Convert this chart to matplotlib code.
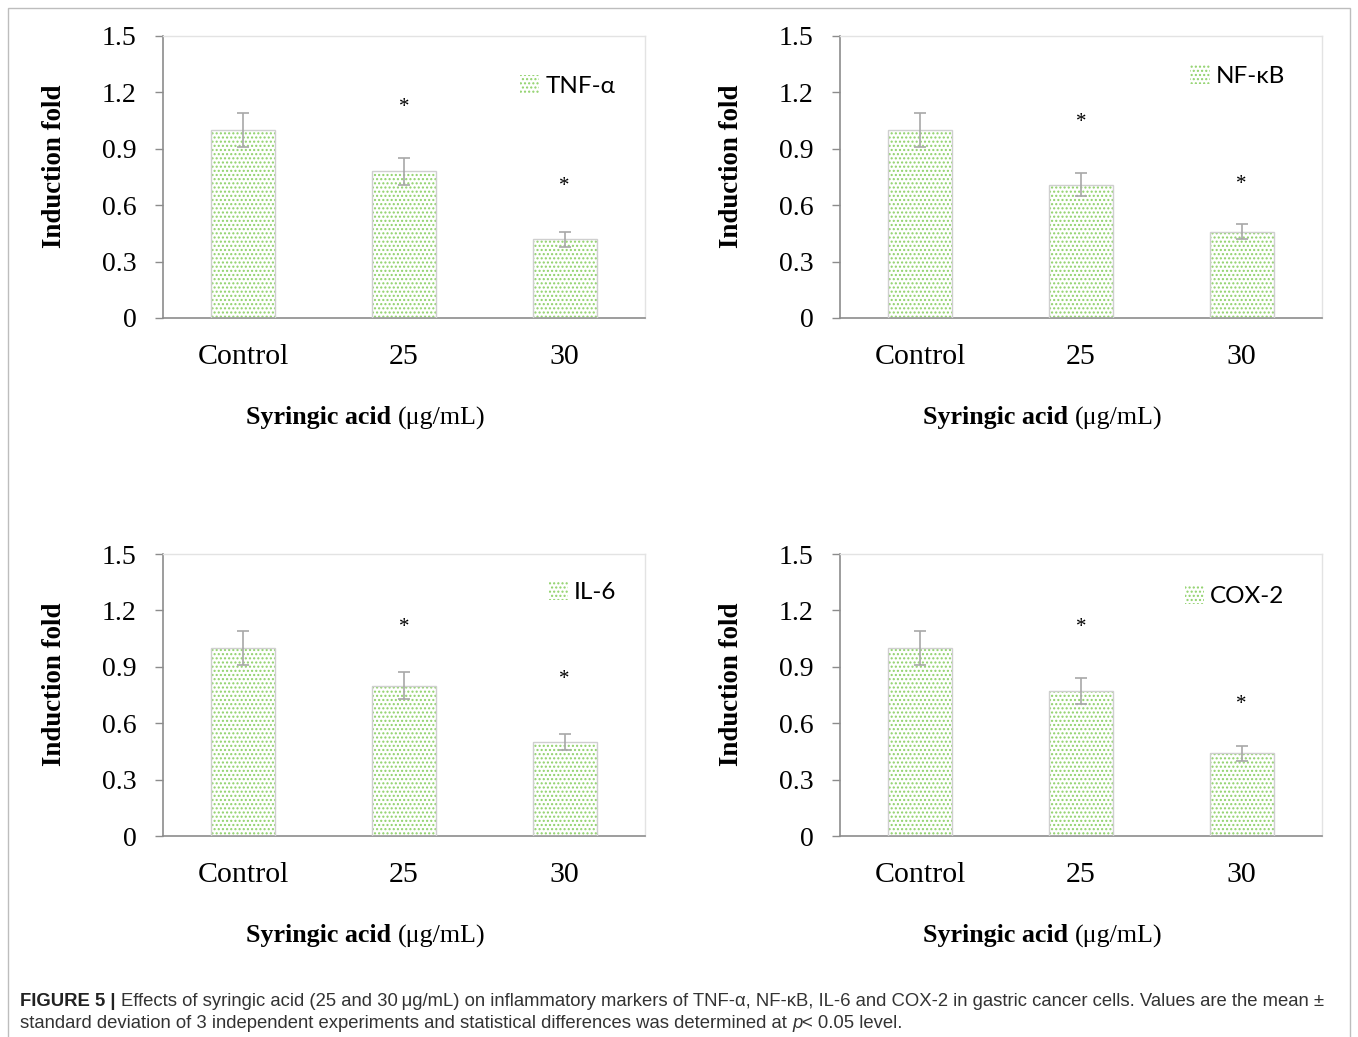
import matplotlib.pyplot as plt
from matplotlib.patches import Rectangle
from matplotlib.offsetbox import TextArea, HPacker, AnchoredOffsetbox

# Data
groups = ["Control", "25", "30"]
markers = ["TNF-α", "NF-κB", "IL-6", "COX-2"]
means = {
    "TNF-α": [1.00, 0.78, 0.42],
    "NF-κB": [1.00, 0.71, 0.46],
    "IL-6": [1.00, 0.80, 0.50],
    "COX-2": [1.00, 0.77, 0.44],
}
errors = {
    "TNF-α": [0.09, 0.07, 0.04],
    "NF-κB": [0.09, 0.06, 0.04],
    "IL-6": [0.09, 0.07, 0.04],
    "COX-2": [0.09, 0.07, 0.04],
}
# height at which the significance star sits (25, 30)
star_y = {
    "TNF-α": [1.12, 0.70],
    "NF-κB": [1.04, 0.71],
    "IL-6": [1.11, 0.83],
    "COX-2": [1.11, 0.70],
}
yticks = [0, 0.3, 0.6, 0.9, 1.2, 1.5]
ytick_labels = ["0", "0.3", "0.6", "0.9", "1.2", "1.5"]

# legend anchor inside each panel (axes fraction)
legend_pos = {
    "TNF-α": (0.72, 0.823),
    "NF-κB": (0.707, 0.858),
    "IL-6": (0.78, 0.865),
    "COX-2": (0.695, 0.851),
}

W, H = 1358, 1037
fig = plt.figure(figsize=(W / 100, H / 100), dpi=100)

# outer frame
fig.patches.append(Rectangle((8 / W, -0.01), (W - 16) / W, 1 - 8 / H + 0.01,
                             transform=fig.transFigure, fill=False,
                             edgecolor="#bdbdbd", linewidth=1))

# panel boxes in pixels: left, top
boxes = [(163, 36), (840, 36), (163, 554), (840, 554)]
aw, ah = 482, 282

serif = "Liberation Serif"
green = "#8fd16a"

for name, (lx, ty) in zip(markers, boxes):
    ax = fig.add_axes([lx / W, 1 - (ty + ah) / H, aw / W, ah / H])
    x = range(len(groups))
    ax.bar(x, means[name], width=0.4, color="white", edgecolor=green,
           hatch="....", linewidth=0, label=name, zorder=2)
    ax.bar(x, means[name], width=0.4, color="none", edgecolor="#cfcfcf",
           linewidth=1, zorder=3)
    ax.errorbar(x, means[name], yerr=errors[name], fmt="none",
                ecolor="#a8a8a8", elinewidth=1.2, capsize=4.5, capthick=1.2,
                zorder=4)
    for xi, sy in zip([1, 2], star_y[name]):
        ax.text(xi, sy, "*", ha="center", va="center", fontsize=15,
                family=serif)

    ax.set_xlim(-0.5, 2.5)
    ax.set_ylim(0, 1.5)
    ax.set_yticks(yticks)
    ax.set_yticklabels(ytick_labels, family=serif, fontsize=20)
    ax.set_xticks(list(x))
    ax.set_xticklabels(groups, family=serif, fontsize=21.5)
    ax.tick_params(axis="x", length=0, pad=19)
    ax.tick_params(axis="y", length=6, width=1, color="#8c8c8c", pad=13)

    for s in ["left", "bottom"]:
        ax.spines[s].set_color("#8c8c8c")
        ax.spines[s].set_linewidth(1.2)
    for s in ["top", "right"]:
        ax.spines[s].set_color("#e3e3e3")
        ax.spines[s].set_linewidth(1)

    ax.set_ylabel("Induction fold", family=serif, fontweight="bold",
                  fontsize=19.4)
    ax.yaxis.set_label_coords(-0.199, 0.537)

    # x label: bold name + plain unit
    t1 = TextArea("Syringic acid ", textprops=dict(family=serif, fontsize=18.7,
                                                    fontweight="bold"))
    t2 = TextArea("(μg/mL)", textprops=dict(family=serif, fontsize=18.7))
    pack = HPacker(children=[t1, t2], pad=0, sep=0, align="baseline")
    ab = AnchoredOffsetbox(loc="center", child=pack, frameon=False,
                           bbox_to_anchor=(0.42, -0.355),
                           bbox_transform=ax.transAxes, borderpad=0, pad=0)
    ax.add_artist(ab)

    leg = ax.legend(loc="center left", bbox_to_anchor=legend_pos[name],
                    frameon=False, handlelength=0.8, handleheight=0.8,
                    handletextpad=0.25, borderaxespad=0,
                    prop=dict(family="Lato", size=17.5))

# caption
cap_font = ["Liberation Sans Narrow", "Liberation Sans"]
cs = 13.3
c1 = TextArea("FIGURE 5 | ", textprops=dict(family=cap_font, fontsize=cs,
                                             fontweight="bold", color="#222222"))
c2 = TextArea("Effects of syringic acid (25 and 30\u2009μg/mL) on inflammatory markers of "
              "TNF-α, NF-κB, IL-6 and COX-2 in gastric cancer cells. Values are the mean ±",
              textprops=dict(family=cap_font, fontsize=cs, color="#333333"))
line1 = HPacker(children=[c1, c2], pad=0, sep=0, align="baseline")
c3 = TextArea("standard deviation of 3 independent experiments and statistical "
              "differences was determined at ",
              textprops=dict(family=cap_font, fontsize=cs, color="#333333"))
c4 = TextArea("p", textprops=dict(family=cap_font, fontsize=cs,
                                  style="italic", color="#333333"))
c5 = TextArea("< 0.05 level.", textprops=dict(family=cap_font, fontsize=cs,
                                              color="#333333"))
line2 = HPacker(children=[c3, c4, c5], pad=0, sep=0, align="baseline")
for line, yp in [(line1, 1002), (line2, 1024)]:
    ab = AnchoredOffsetbox(loc="center left", child=line, frameon=False,
                           bbox_to_anchor=(20 / W, 1 - yp / H),
                           bbox_transform=fig.transFigure, borderpad=0, pad=0)
    fig.add_artist(ab)

fig.savefig("out.png", dpi=100)
